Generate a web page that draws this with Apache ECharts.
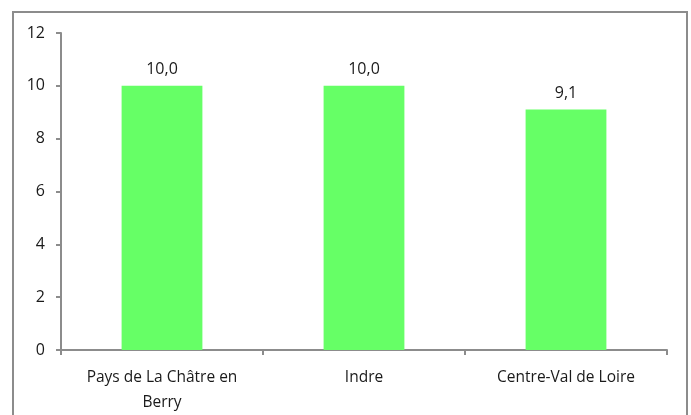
<!DOCTYPE html>
<html><head><meta charset="utf-8">
<script src="https://cdn.jsdelivr.net/npm/echarts@6/dist/echarts.min.js"></script>
<style>html,body{margin:0;padding:0;background:#fff}#c{width:691px;height:415px}</style>
</head><body><div id="c"></div>
<script>
const categories = ["Pays de La Châtre en\nBerry", "Indre", "Centre-Val de Loire"];
const values = [10.0, 10.0, 9.1];
const yTicks = [0, 2, 4, 6, 8, 10, 12];

const chart = echarts.init(document.getElementById('c'), null, {renderer: 'canvas'});
chart.setOption({
  animation: false,
  backgroundColor: '#fff',
  textStyle: {fontFamily: 'Open Sans'},
  graphic: [{
    type: 'rect', silent: true,
    shape: {x: 13, y: 12, width: 674, height: 412},
    style: {fill: 'none', stroke: '#8c8c8c', lineWidth: 2}
  }],
  grid: {left: 61, right: 24, top: 33, bottom: 61, containLabel: false},
  xAxis: {
    type: 'category', data: categories,
    axisLine: {lineStyle: {color: '#8c8c8c', width: 2}},
    axisTick: {show: true, interval: 0, length: 5, lineStyle: {color: '#8c8c8c', width: 2}},
    axisLabel: {interval: 0, hideOverlap: false, color: '#1a1a1a', fontSize: 15.5, lineHeight: 25, margin: 15, fontFamily: 'Open Sans'}
  },
  yAxis: {
    type: 'value', min: yTicks[0], max: yTicks[yTicks.length-1], interval: 2,
    splitLine: {show: false},
    axisLine: {show: true, lineStyle: {color: '#8c8c8c', width: 2}},
    axisTick: {show: true, length: 5, lineStyle: {color: '#8c8c8c', width: 2}},
    axisLabel: {color: '#1a1a1a', fontSize: 16, margin: 16, fontFamily: 'Open Sans'}
  },
  series: [{
    type: 'bar', data: values, barWidth: '40%',
    itemStyle: {color: '#66ff66'},
    label: {show: true, position: 'top', distance: 8, color: '#1a1a1a', fontSize: 16, fontFamily: 'Open Sans',
      formatter: p => p.value.toFixed(1).replace('.', ',')}
  }]
});
</script></body></html>
